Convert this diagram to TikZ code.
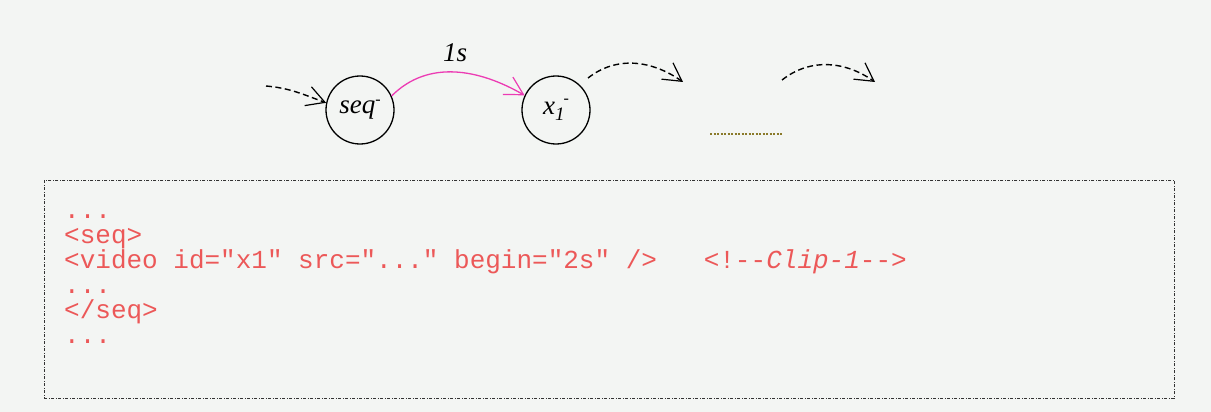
\documentclass[tikz,border=0pt]{standalone}
\usepackage{fontspec}
\setmainfont{Liberation Serif}
\setmonofont{Liberation Mono}
\usetikzlibrary{arrows.meta}
\definecolor{bg}{HTML}{F3F5F3}
\definecolor{codered}{HTML}{EC5858}
\definecolor{pinkarc}{HTML}{EC3CB4}
\definecolor{olive}{HTML}{8A7A2A}
\tikzset{
  state/.style={draw=black, line width=1.3pt, circle, minimum size=68pt, inner sep=0pt, font=\fontsize{27}{28}\selectfont\itshape},
  barb/.style={-{Straight Barb[length=18pt,width=20pt,line width=1.2pt]}},
  dasharc/.style={barb, dash pattern=on 6pt off 3.5pt, line width=1.4pt},
  codeline/.style={anchor=base west, inner sep=0pt, text=codered, font=\fontsize{26}{25}\selectfont\ttfamily},
  codebox/.style={draw=black!80, line width=0.9pt, dash pattern=on 3pt off 1.5pt on 1pt off 1.5pt}
}
\begin{document}
\begin{tikzpicture}[x=1pt,y=-1pt]
\fill[bg] (0,0) rectangle (1211,412);
\useasboundingbox (0,0) rectangle (1211,412);

\node[state] (seq) at (360,110) {seq\raisebox{9pt}{\fontsize{16}{16}\selectfont -}};
\node[state] (x1) at (556,110) {x\raisebox{-6pt}{\fontsize{19}{19}\selectfont 1}\hspace{-1pt}\raisebox{11pt}{\fontsize{16}{16}\selectfont -}};

\coordinate (in0) at (266,86);
\draw[dasharc] (in0) to[out=-5,in=160] (seq.168);

\draw[pinkarc, line width=1.3pt, barb] (seq.24) to[out=45,in=150] node[above=6pt, text=black, font=\fontsize{27}{27}\selectfont\itshape] (lbl) {1s} (x1.155);

\coordinate (a1s) at (588,78);
\coordinate (a1e) at (683,82);
\draw[dasharc] (a1s) to[out=38,in=145] (a1e);
\coordinate (a2s) at (782,80);
\coordinate (a2e) at (875,82);
\draw[dasharc] (a2s) to[out=38,in=145] (a2e);

\coordinate (d1) at (710,134);
\coordinate (d2) at (782,134);
\draw[olive, line width=1.1pt, dash pattern=on 2pt off 1.5pt] (d1) -- (d2);

\node[codebox, minimum width=1130pt, minimum height=218pt, anchor=north west, inner sep=0pt] (box) at (44,180) {};

\node[codeline] (c1) at (64,218) {...};
\node[codeline] (c2) at (64,243) {<seq>};
\node[codeline] (c3) at (64,268) {<video id="x1" src="..." begin="2s" />\ \ \ <!--\textit{Clip-1}-->};
\node[codeline] (c4) at (64,293) {...};
\node[codeline] (c5) at (64,318) {</seq>};
\node[codeline] (c6) at (64,343) {...};
\end{tikzpicture}
\end{document}
